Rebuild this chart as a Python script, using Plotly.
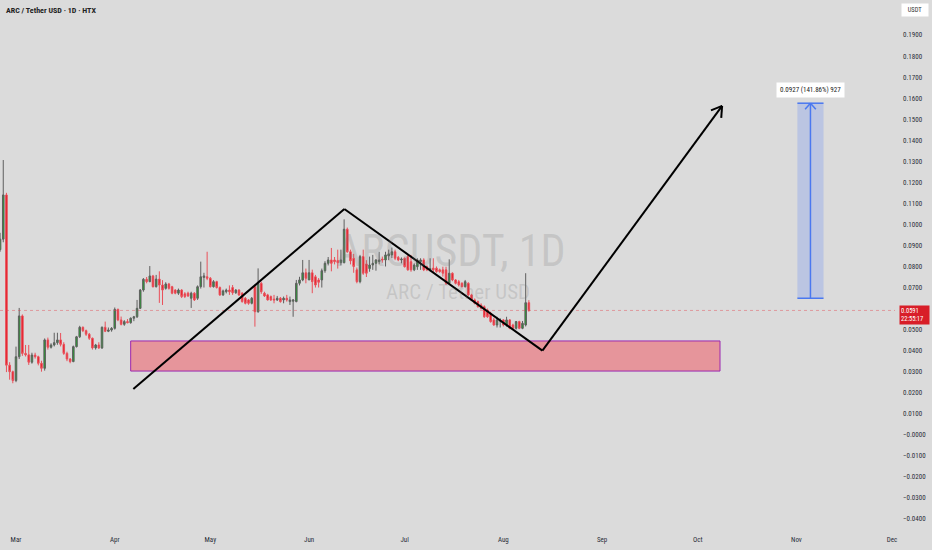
"""
ARC / Tether USD daily chart (HTX) with a drawn zigzag, a demand zone
and a long target, in the look of a TradingView screenshot.
"""

import math

import pandas as pd
import plotly.graph_objects as go

# ── Data ──────────────────────────────────────────────────────────────
FIRST_DAY = "2025-02-24"

open_ = [
    # Feb 24-28
    0.0880, 0.0930, 0.1140, 0.0331, 0.0300,
    # Mar
    0.0258, 0.0371, 0.0565, 0.0387, 0.0380, 0.0345, 0.0379, 0.0371, 0.0340, 0.0316,
    0.0451, 0.0416, 0.0427, 0.0438, 0.0451, 0.0430, 0.0387, 0.0360, 0.0348, 0.0419,
    0.0466, 0.0511, 0.0495, 0.0478, 0.0459, 0.0413, 0.0427, 0.0413, 0.0511, 0.0492,
    0.0498,
    # Apr
    0.0506, 0.0596, 0.0546, 0.0525, 0.0538, 0.0533, 0.0554, 0.0561, 0.0601, 0.0688,
    0.0739, 0.0728, 0.0755, 0.0704, 0.0740, 0.0712, 0.0696, 0.0717, 0.0704, 0.0688,
    0.0673, 0.0688, 0.0670, 0.0673, 0.0649, 0.0673, 0.0649, 0.0704, 0.0748, 0.0751,
    # May
    0.0744, 0.0704, 0.0728, 0.0700, 0.0665, 0.0680, 0.0688, 0.0700, 0.0675, 0.0688,
    0.0673, 0.0649, 0.0641, 0.0625, 0.0704, 0.0585, 0.0720, 0.0673, 0.0665, 0.0657,
    0.0645, 0.0641, 0.0649, 0.0641, 0.0649, 0.0633, 0.0635, 0.0633, 0.0720, 0.0736,
    0.0770,
    # Jun
    0.0736, 0.0770, 0.0751, 0.0736, 0.0736, 0.0780, 0.0815, 0.0831, 0.0831, 0.0828,
    0.0818, 0.0818, 0.0977, 0.0870, 0.0839, 0.0784, 0.0728, 0.0847, 0.0812, 0.0790,
    0.0807, 0.0815, 0.0823, 0.0835, 0.0831, 0.0850, 0.0855, 0.0870, 0.0843, 0.0831,
    # Jul
    0.0839, 0.0847, 0.0823, 0.0784, 0.0799, 0.0823, 0.0831, 0.0799, 0.0784, 0.0792,
    0.0792, 0.0784, 0.0784, 0.0784, 0.0720, 0.0768, 0.0736, 0.0728, 0.0720, 0.0704,
    0.0720, 0.0665, 0.0641, 0.0633, 0.0617, 0.0609, 0.0593, 0.0577, 0.0546, 0.0522,
    0.0540,
    # Aug 1-9
    0.0546, 0.0522, 0.0546, 0.0522, 0.0506, 0.0538, 0.0506, 0.0522, 0.0628,
]

high = [
    0.0960, 0.1306, 0.1150, 0.0345, 0.0305,
    0.0419, 0.0603, 0.0572, 0.0427, 0.0427, 0.0390, 0.0390, 0.0376, 0.0352, 0.0458,
    0.0462, 0.0435, 0.0485, 0.0485, 0.0484, 0.0440, 0.0395, 0.0365, 0.0424, 0.0470,
    0.0518, 0.0515, 0.0500, 0.0484, 0.0462, 0.0432, 0.0440, 0.0515, 0.0538, 0.0510,
    0.0512,
    0.0605, 0.0600, 0.0562, 0.0545, 0.0550, 0.0558, 0.0565, 0.0641, 0.0693, 0.0745,
    0.0750, 0.0802, 0.0760, 0.0760, 0.0777, 0.0735, 0.0725, 0.0722, 0.0708, 0.0692,
    0.0695, 0.0692, 0.0678, 0.0680, 0.0680, 0.0678, 0.0710, 0.0823, 0.0770, 0.0870,
    0.0750, 0.0735, 0.0732, 0.0705, 0.0690, 0.0695, 0.0710, 0.0712, 0.0692, 0.0692,
    0.0678, 0.0655, 0.0645, 0.0655, 0.0712, 0.0791, 0.0728, 0.0680, 0.0670, 0.0662,
    0.0665, 0.0660, 0.0655, 0.0657, 0.0665, 0.0657, 0.0645, 0.0736, 0.0751, 0.0831,
    0.0790,
    0.0831, 0.0785, 0.0760, 0.0745, 0.0790, 0.0825, 0.0845, 0.0888, 0.0845, 0.0880,
    0.0880, 0.1024, 0.0985, 0.0880, 0.0860, 0.0795, 0.0855, 0.0880, 0.0830, 0.0847,
    0.0855, 0.0835, 0.0870, 0.0847, 0.0870, 0.0880, 0.0890, 0.0880, 0.0850, 0.0843,
    0.0843, 0.0855, 0.0855, 0.0815, 0.0839, 0.0839, 0.0839, 0.0805, 0.0839, 0.0839,
    0.0800, 0.0790, 0.0799, 0.0799, 0.0834, 0.0772, 0.0740, 0.0736, 0.0725, 0.0736,
    0.0725, 0.0670, 0.0648, 0.0638, 0.0625, 0.0615, 0.0600, 0.0585, 0.0556, 0.0561,
    0.0554,
    0.0550, 0.0561, 0.0550, 0.0528, 0.0541, 0.0542, 0.0541, 0.0768, 0.0640,
]

low = [
    0.0870, 0.0915, 0.0298, 0.0262, 0.0245,
    0.0250, 0.0360, 0.0375, 0.0372, 0.0332, 0.0338, 0.0362, 0.0330, 0.0300, 0.0305,
    0.0405, 0.0410, 0.0420, 0.0428, 0.0420, 0.0380, 0.0350, 0.0340, 0.0345, 0.0415,
    0.0460, 0.0488, 0.0470, 0.0451, 0.0405, 0.0405, 0.0408, 0.0408, 0.0488, 0.0488,
    0.0490,
    0.0500, 0.0540, 0.0520, 0.0518, 0.0530, 0.0528, 0.0540, 0.0555, 0.0598, 0.0680,
    0.0720, 0.0725, 0.0700, 0.0700, 0.0627, 0.0617, 0.0690, 0.0690, 0.0668, 0.0668,
    0.0665, 0.0650, 0.0650, 0.0655, 0.0603, 0.0636, 0.0641, 0.0695, 0.0700, 0.0735,
    0.0700, 0.0700, 0.0695, 0.0660, 0.0660, 0.0672, 0.0665, 0.0665, 0.0670, 0.0660,
    0.0628, 0.0620, 0.0618, 0.0620, 0.0514, 0.0580, 0.0670, 0.0655, 0.0638, 0.0636,
    0.0625, 0.0636, 0.0628, 0.0625, 0.0633, 0.0617, 0.0561, 0.0630, 0.0710, 0.0730,
    0.0720,
    0.0736, 0.0673, 0.0700, 0.0700, 0.0700, 0.0770, 0.0805, 0.0777, 0.0810, 0.0790,
    0.0805, 0.0815, 0.0865, 0.0810, 0.0770, 0.0720, 0.0720, 0.0760, 0.0750, 0.0775,
    0.0784, 0.0780, 0.0810, 0.0818, 0.0800, 0.0830, 0.0840, 0.0830, 0.0825, 0.0815,
    0.0795, 0.0780, 0.0775, 0.0778, 0.0784, 0.0784, 0.0778, 0.0778, 0.0776, 0.0768,
    0.0770, 0.0770, 0.0752, 0.0712, 0.0712, 0.0730, 0.0715, 0.0705, 0.0700, 0.0700,
    0.0660, 0.0636, 0.0620, 0.0604, 0.0596, 0.0556, 0.0556, 0.0533, 0.0518, 0.0510,
    0.0510,
    0.0515, 0.0514, 0.0502, 0.0500, 0.0500, 0.0502, 0.0502, 0.0515, 0.0585,
]

close = [
    0.0930, 0.1140, 0.0331, 0.0300, 0.0258,
    0.0371, 0.0565, 0.0387, 0.0380, 0.0345, 0.0379, 0.0371, 0.0340, 0.0316, 0.0451,
    0.0416, 0.0427, 0.0438, 0.0451, 0.0430, 0.0387, 0.0360, 0.0348, 0.0419, 0.0466,
    0.0511, 0.0495, 0.0478, 0.0459, 0.0413, 0.0427, 0.0413, 0.0511, 0.0492, 0.0498,
    0.0506,
    0.0596, 0.0546, 0.0525, 0.0538, 0.0533, 0.0554, 0.0561, 0.0601, 0.0688, 0.0739,
    0.0728, 0.0755, 0.0704, 0.0740, 0.0712, 0.0688, 0.0717, 0.0696, 0.0673, 0.0673,
    0.0688, 0.0657, 0.0657, 0.0660, 0.0673, 0.0641, 0.0704, 0.0751, 0.0755, 0.0744,
    0.0704, 0.0728, 0.0700, 0.0665, 0.0684, 0.0688, 0.0680, 0.0675, 0.0688, 0.0665,
    0.0633, 0.0625, 0.0625, 0.0649, 0.0585, 0.0720, 0.0680, 0.0660, 0.0641, 0.0641,
    0.0641, 0.0649, 0.0633, 0.0649, 0.0641, 0.0641, 0.0641, 0.0720, 0.0736, 0.0770,
    0.0744,
    0.0770, 0.0728, 0.0712, 0.0725, 0.0780, 0.0815, 0.0831, 0.0815, 0.0823, 0.0818,
    0.0831, 0.0977, 0.0870, 0.0827, 0.0800, 0.0728, 0.0847, 0.0768, 0.0768, 0.0807,
    0.0815, 0.0831, 0.0831, 0.0831, 0.0855, 0.0860, 0.0870, 0.0839, 0.0831, 0.0835,
    0.0799, 0.0784, 0.0784, 0.0807, 0.0831, 0.0831, 0.0784, 0.0784, 0.0790, 0.0784,
    0.0776, 0.0776, 0.0768, 0.0720, 0.0768, 0.0736, 0.0720, 0.0712, 0.0704, 0.0728,
    0.0665, 0.0641, 0.0625, 0.0609, 0.0601, 0.0561, 0.0561, 0.0538, 0.0522, 0.0546,
    0.0545,
    0.0522, 0.0546, 0.0506, 0.0506, 0.0538, 0.0506, 0.0530, 0.0628, 0.0591,
]

LAST_PRICE = 0.0591
COUNTDOWN = "22:55:17"

# drawings (anchored in date / price like the TradingView tools)
ZIGZAG_DATES = ["2025-04-06 20:00", "2025-06-12 02:00", "2025-08-13 06:00", "2025-10-08 16:00"]
ZIGZAG_PRICES = [0.0218, 0.1073, 0.0400, 0.1563]

ZONE_DATES = ["2025-04-06", "2025-10-08"]
ZONE_PRICES = [0.0303, 0.0446]

TARGET_DATES = ["2025-11-01 07:00", "2025-11-09 12:00"]
TARGET_PRICES = [0.0649, 0.1576]
TARGET_LABEL = "0.0927 (141.86%) 927"

MONTH_TICKS = ["2025-03-01", "2025-04-01", "2025-05-01", "2025-06-01", "2025-07-01",
               "2025-08-01", "2025-09-01", "2025-10-01", "2025-11-01", "2025-12-01"]
MONTH_LABELS = ["Mar", "Apr", "May", "Jun", "Jul", "Aug", "Sep", "Oct", "Nov", "Dec"]

PRICE_TICKS = [-0.04, -0.03, -0.02, -0.01, 0.0, 0.01, 0.02, 0.03, 0.04, 0.05,
               0.07, 0.08, 0.09, 0.10, 0.11, 0.12, 0.13, 0.14, 0.15, 0.16,
               0.17, 0.18, 0.19]

# ── Geometry / style ─────────────────────────────────────────────────
W, H = 932, 550
M_R, M_B = 37, 16
PLOT_W, PLOT_H = W - M_R, H - M_B
PX_PER_DAY = 3.1855
PX_PER_UNIT = 2104.0
DAY = pd.Timedelta(days=1)

X_START = pd.Timestamp("2025-03-01") - pd.Timedelta(days=16 / PX_PER_DAY)
X_END = X_START + pd.Timedelta(days=PLOT_W / PX_PER_DAY)
Y_MAX = 434.8 / PX_PER_UNIT
Y_MIN = Y_MAX - PLOT_H / PX_PER_UNIT

BG = "#dbdbdb"
FONT = "Liberation Sans Narrow, Arial Narrow, Roboto Condensed, Roboto, sans-serif"
GREEN, RED = "#1fa52a", "#e3121d"
BLUE = "#4a78f0"
TEXT = "#2a2e39"


def to_px(t, p):
    return (pd.Timestamp(t) - X_START) / DAY * PX_PER_DAY, (Y_MAX - p) * PX_PER_UNIT


def from_px(px, py):
    return str(X_START + pd.Timedelta(days=px / PX_PER_DAY)), Y_MAX - py / PX_PER_UNIT


def chevron(tip, tail, size, spread_deg):
    """Two leg end points of an open arrow head at `tip`, pointing away from `tail`."""
    tx, ty = to_px(*tip)
    bx, by = to_px(*tail)
    n = math.hypot(bx - tx, by - ty)
    ux, uy = (bx - tx) / n, (by - ty) / n
    legs = []
    for s in (math.radians(spread_deg), -math.radians(spread_deg)):
        c, si = math.cos(s), math.sin(s)
        legs.append(from_px(tx + size * (ux * c - uy * si), ty + size * (ux * si + uy * c)))
    return legs


def price_label(v):
    s = f"{abs(v):.4f}"
    return ("−" + s) if v <= 0 else s


def main() -> None:
    assert len(open_) == len(high) == len(low) == len(close)
    dates = pd.date_range(FIRST_DAY, periods=len(close), freq="D")

    fig = go.Figure()
    fig.add_trace(go.Candlestick(
        x=dates, open=open_, high=high, low=low, close=close,
        increasing=dict(fillcolor=GREEN, line=dict(color="#5f5f5f", width=1)),
        decreasing=dict(fillcolor=RED, line=dict(color="#e9505a", width=1)),
        hoverinfo="skip", showlegend=False,
    ))

    shapes = []
    # last price dotted line
    shapes.append(dict(type="line", xref="paper", x0=0, x1=1, y0=LAST_PRICE, y1=LAST_PRICE,
                       line=dict(color="rgba(224,67,75,0.55)", width=0.8, dash="dot")))
    # demand zone
    shapes.append(dict(type="rect", x0=ZONE_DATES[0], x1=ZONE_DATES[1],
                       y0=ZONE_PRICES[0], y1=ZONE_PRICES[1],
                       fillcolor="#e6959b", line=dict(color="#9c27b0", width=1)))
    # zigzag path
    for i in range(len(ZIGZAG_DATES) - 1):
        shapes.append(dict(type="line", x0=ZIGZAG_DATES[i], y0=ZIGZAG_PRICES[i],
                           x1=ZIGZAG_DATES[i + 1], y1=ZIGZAG_PRICES[i + 1],
                           line=dict(color="black", width=2)))
    tip = (ZIGZAG_DATES[-1], ZIGZAG_PRICES[-1])
    for lx, ly in chevron(tip, (ZIGZAG_DATES[-2], ZIGZAG_PRICES[-2]), 12, 32):
        shapes.append(dict(type="line", x0=tip[0], y0=tip[1], x1=lx, y1=ly,
                           line=dict(color="black", width=2)))

    # long target box
    t0, t1 = pd.Timestamp(TARGET_DATES[0]), pd.Timestamp(TARGET_DATES[1])
    t_mid = str(t0 + (t1 - t0) / 2)
    lo, hi = TARGET_PRICES
    shapes.append(dict(type="rect", x0=TARGET_DATES[0], x1=TARGET_DATES[1], y0=lo, y1=hi,
                       fillcolor="rgba(60,110,255,0.20)", line=dict(width=0)))
    for yv in (lo, hi):
        shapes.append(dict(type="line", x0=TARGET_DATES[0], x1=TARGET_DATES[1], y0=yv, y1=yv,
                           line=dict(color=BLUE, width=1.5)))
    shapes.append(dict(type="line", x0=t_mid, x1=t_mid, y0=lo, y1=hi,
                       line=dict(color=BLUE, width=1.5)))
    for lx, ly in chevron((t_mid, hi), (t_mid, lo), 8, 42):
        shapes.append(dict(type="line", x0=t_mid, y0=hi, x1=lx, y1=ly,
                           line=dict(color=BLUE, width=1.5)))

    def px(x):
        return x / PLOT_W

    def py(y):
        return 1 - y / PLOT_H

    annotations = [
        # watermark
        dict(xref="paper", yref="paper", x=px(451), y=py(251), xanchor="center",
             yanchor="middle", text="ARCUSDT, 1D", showarrow=False,
             font=dict(family=FONT, size=44, color="rgba(120,120,120,0.22)")),
        dict(xref="paper", yref="paper", x=px(458), y=py(292), xanchor="center",
             yanchor="middle", text="ARC / Tether USD", showarrow=False,
             font=dict(family=FONT, size=21, color="rgba(120,120,120,0.22)")),
        # title
        dict(xref="paper", yref="paper", x=px(4), y=py(10), xanchor="left", yanchor="middle",
             text="<b>ARC / Tether USD · 1D · HTX</b>", showarrow=False,
             font=dict(family=FONT, size=8, color="#222222")),
        # target label
        dict(x=t_mid, y=hi, yshift=13, text=TARGET_LABEL, showarrow=False,
             xanchor="center", yanchor="middle",
             bgcolor="white", borderpad=3, font=dict(family=FONT, size=7, color="#222222")),
        # currency box
        dict(xref="paper", yref="paper", x=px(915.5), y=py(10.5), xanchor="center",
             yanchor="middle", text="USDT", showarrow=False,
             bgcolor="white", width=24, height=10, borderpad=1,
             font=dict(family=FONT, size=6.5, color="#333333")),
        # last price box
        dict(xref="paper", yref="paper", x=px(914.5), y=py(315), xanchor="center",
             yanchor="middle", text=f"{LAST_PRICE:.4f}<br>{COUNTDOWN}", showarrow=False,
             align="left", bgcolor="#d81e28", width=27, height=16, borderpad=1,
             font=dict(family=FONT, size=6.5, color="white")),
    ]

    fig.update_layout(
        width=W, height=H,
        margin=dict(l=0, r=M_R, t=0, b=M_B),
        paper_bgcolor=BG, plot_bgcolor=BG,
        font=dict(family=FONT, size=7, color=TEXT),
        showlegend=False, hovermode=False,
        shapes=shapes, annotations=annotations,
        xaxis=dict(
            type="date", range=[str(X_START), str(X_END)],
            showgrid=False, zeroline=False, showline=False, ticks="",
            tickvals=MONTH_TICKS, ticktext=MONTH_LABELS,
            tickfont=dict(family=FONT, size=7, color=TEXT),
            rangeslider=dict(visible=False), fixedrange=True,
        ),
        yaxis=dict(
            side="right", range=[Y_MIN, Y_MAX],
            showgrid=False, zeroline=False, showline=False, ticks="",
            tickvals=PRICE_TICKS, ticktext=[price_label(v) for v in PRICE_TICKS],
            ticklabelstandoff=7,
            tickfont=dict(family=FONT, size=7, color=TEXT),
            fixedrange=True,
        ),
    )

    # drop the browser's default body margin so the chart fills the window
    fig.write_html(
        "out.html",
        config={"displayModeBar": False, "staticPlot": True},
        post_script="document.body.style.margin='0';document.body.style.overflow='hidden';",
    )


if __name__ == "__main__":
    main()
